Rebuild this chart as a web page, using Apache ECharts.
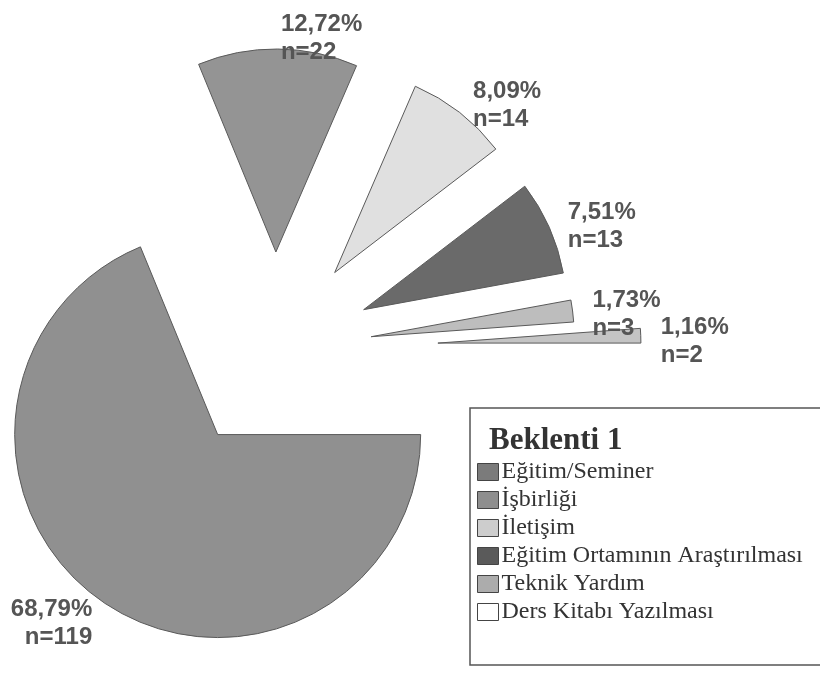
<!DOCTYPE html>
<html>
<head>
<meta charset="utf-8">
<script src="https://cdn.jsdelivr.net/npm/echarts@6/dist/echarts.min.js"></script>
<style>
  html, body { margin: 0; padding: 0; background: #fff; }
  #chart { width: 820px; height: 677px; }
</style>
</head>
<body>
<div id="chart"></div>
<script>
// Beklenti 1 - counts per answer
const categories = ['Eğitim/Seminer', 'İşbirliği', 'İletişim', 'Eğitim Ortamının Araştırılması', 'Teknik Yardım', 'Ders Kitabı Yazılması'];
const counts = [119, 22, 14, 13, 3, 2];
const sliceColors = ['#909090', '#949494', '#e0e0e0', '#6a6a6a', '#bdbdbd', '#c4c4c4'];
const legendColors = ['#7b7b7b', '#8e8e8e', '#cdcdcd', '#5a5a5a', '#acacac', '#ffffff'];
const explode = [103, 97, 97, 97, 97, 163];   // how far each slice is pulled out

const chart = echarts.init(document.getElementById('chart'));

const labelText = function (p) {
    return p.percent.toFixed(2).replace('.', ',') + '%\nn=' + p.value;
};

// one pie per slice so every slice can have its own explode distance
function pieSeries(k) {
    return {
        type: 'pie',
        center: [275, 349],
        radius: 203,
        startAngle: 0,
        clockwise: true,
        selectedMode: 'multiple',
        selectedOffset: explode[k],
        avoidLabelOverlap: false,
        silent: true,
        animation: false,
        label: {
            position: 'outside',
            formatter: labelText,
            fontFamily: 'Liberation Sans',
            fontWeight: 'bold',
            fontSize: 24,
            lineHeight: 28,
            color: '#555555',
            distanceToLabelLine: 3,
            overflow: 'none'
        },
        labelLine: { show: false, length: 17, length2: 0 },
        labelLayout: { dy: 6, hideOverlap: false },
        itemStyle: { borderColor: '#5a5a5a', borderWidth: 1 },
        data: categories.map(function (name, i) {
            return {
                name: name,
                value: counts[i],
                selected: true,
                itemStyle: { color: sliceColors[i], opacity: i === k ? 1 : 0 },
                label: { show: i === k }
            };
        })
    };
}

chart.setOption({
    backgroundColor: '#ffffff',
    title: {
        text: 'Beklenti 1',
        left: 489,
        top: 425,
        padding: 0,
        textStyle: {
            fontFamily: 'Liberation Serif',
            fontWeight: 'bold',
            fontSize: 31,
            color: '#333333'
        }
    },
    legend: {
        orient: 'vertical',
        left: 470,
        top: 408,
        padding: [52, 40, 41, 7],
        itemGap: 4,
        itemWidth: 21,
        itemHeight: 17,
        borderColor: '#555555',
        borderWidth: 1.5,
        selectedMode: false,
        icon: 'rect',
        textStyle: {
            fontFamily: 'Liberation Serif',
            fontSize: 24,
            lineHeight: 24,
            color: '#333333',
            padding: [0, 0, 0, -2]
        },
        data: categories.map(function (name, i) {
            return {
                name: name,
                itemStyle: { color: legendColors[i], opacity: 1, borderColor: '#444444', borderWidth: 1 }
            };
        })
    },
    series: categories.map(function (name, k) { return pieSeries(k); })
});
</script>
</body>
</html>
